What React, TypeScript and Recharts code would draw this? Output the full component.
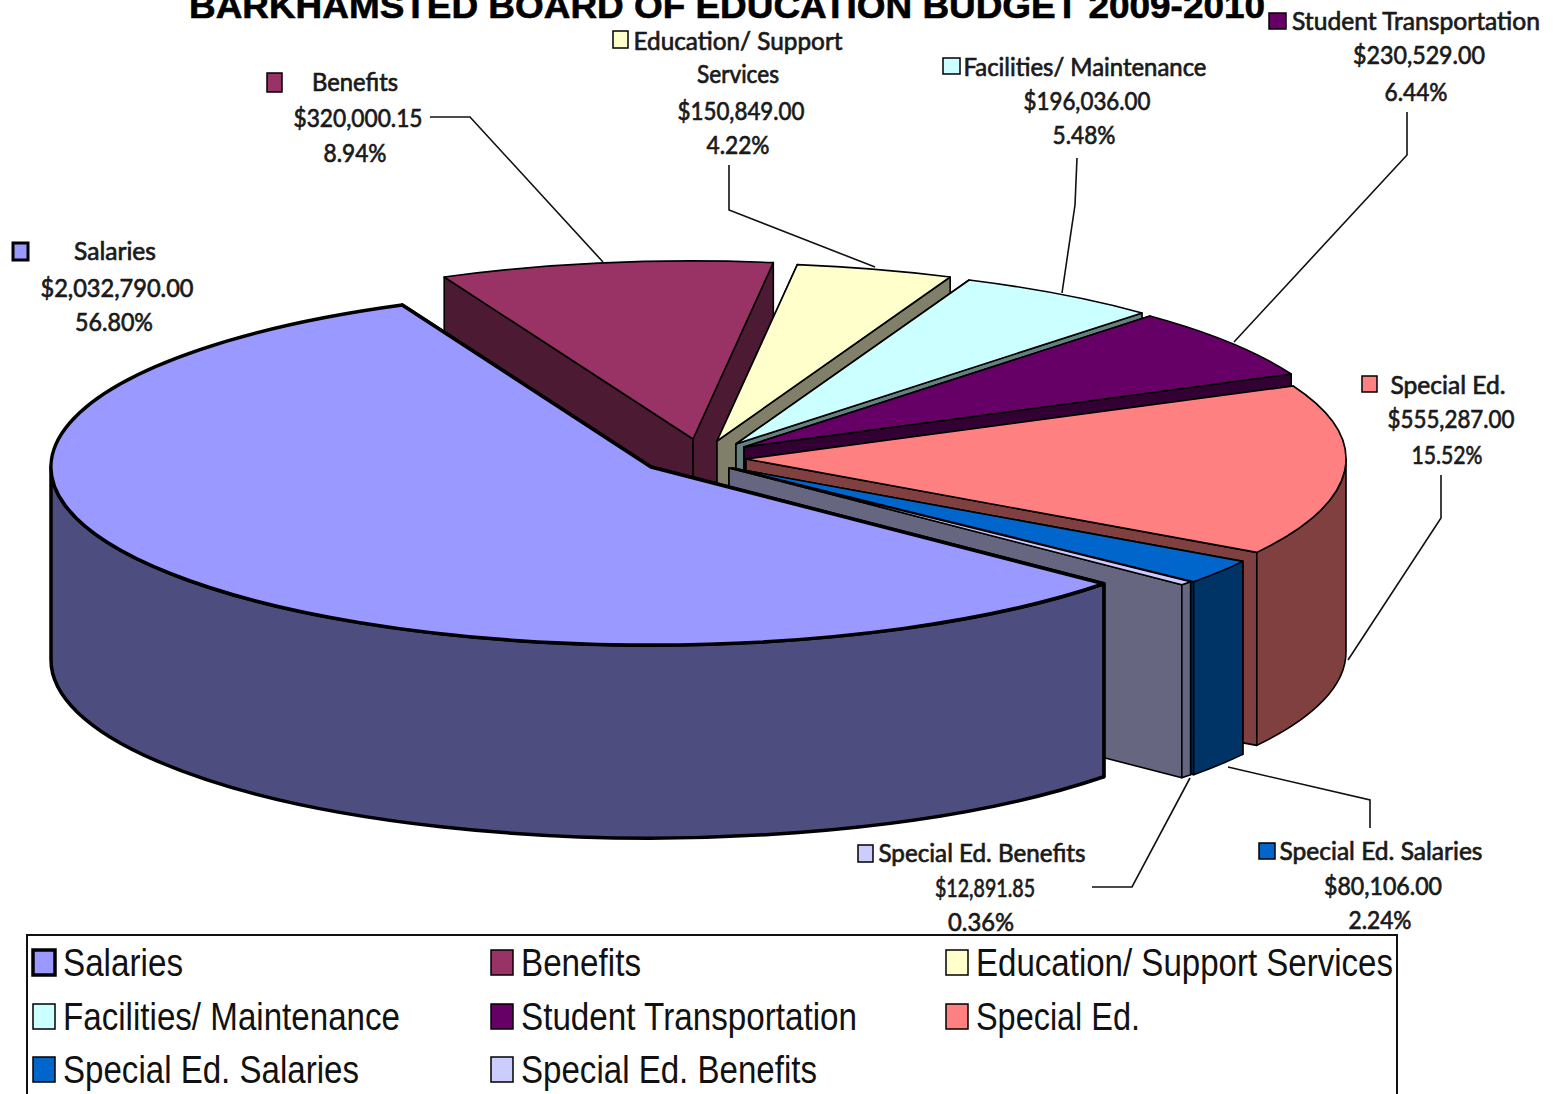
import { Legend, Pie, PieChart } from "recharts";

const CATEGORIES = [
  "Salaries",
  "Benefits",
  "Education/ Support Services",
  "Facilities/ Maintenance",
  "Student Transportation",
  "Special Ed.",
  "Special Ed. Salaries",
  "Special Ed. Benefits",
];
const AMOUNTS = [2032790.0, 320000.15, 150849.0, 196036.0, 230529.0, 555287.0, 80106.0, 12891.85];
const SHARE_LABELS = ["56.80%", "8.94%", "4.22%", "5.48%", "6.44%", "15.52%", "2.24%", "0.36%"];
const TOP_COLORS = ["#9999FF", "#993366", "#FFFFCC", "#CCFFFF", "#660066", "#FF8080", "#0066CC", "#CCCCFF"];
const WALL_COLORS = ["#4D4D80", "#4D1A33", "#80806A", "#668080", "#330033", "#804040", "#003366", "#666680"];

const data = CATEGORIES.map((name, i) => ({ name, value: AMOUNTS[i], fill: TOP_COLORS[i] }));
const money = (v: number) =>
  "$" + v.toLocaleString("en-US", { minimumFractionDigits: 2, maximumFractionDigits: 2 });

// pie geometry: a flat ellipse with a vertical wall below it
const CX = 651;
const CY = 467;
const RX = 600;
const RY = 178;
const DEPTH = 193;

// how far each wedge is pulled out of the pie
const EXPLODE = [
  [0, 0],
  [42, -28],
  [66, -26],
  [85, -23],
  [93, -20],
  [95, -8],
  [81, 1],
  [78, 1],
];
// painted back to front
const DRAW_ORDER = [1, 2, 3, 4, 5, 6, 7, 0];

const FONT = "Lato, sans-serif";

type LabelBox = {
  swatch: [number, number, number, number];
  lines: [string, number, number, number][];
  leader: string;
};

const nameLine = (text: string, x: number, y: number, w: number): [string, number, number, number] => [text, x, y, w];

const LABEL_BOXES: LabelBox[] = [
  {
    swatch: [13, 243, 15, 17],
    lines: [nameLine(CATEGORIES[0], 115, 250, 82), nameLine(money(AMOUNTS[0]), 117, 287, 153), nameLine(SHARE_LABELS[0], 114, 321, 78)],
    leader: "",
  },
  {
    swatch: [267, 73, 15, 19],
    lines: [nameLine(CATEGORIES[1], 355, 81, 86), nameLine(money(AMOUNTS[1]), 358, 117, 129), nameLine(SHARE_LABELS[1], 355, 152, 63)],
    leader: "430,117 470,117 603,262",
  },
  {
    swatch: [613, 31, 15, 17],
    lines: [
      nameLine("Education/ Support", 738, 40, 209),
      nameLine("Services", 738, 73, 82),
      nameLine(money(AMOUNTS[2]), 741, 110, 127),
      nameLine(SHARE_LABELS[2], 738, 144, 63),
    ],
    leader: "729,165 729,210 875,267",
  },
  {
    swatch: [943, 58, 17, 16],
    lines: [nameLine(CATEGORIES[3], 1085, 66, 243), nameLine(money(AMOUNTS[3]), 1087, 100, 127), nameLine(SHARE_LABELS[3], 1084, 134, 63)],
    leader: "1077,158 1075,205 1062,293",
  },
  {
    swatch: [1269, 13, 17, 16],
    lines: [nameLine(CATEGORIES[4], 1416, 20, 248), nameLine(money(AMOUNTS[4]), 1419, 54, 132), nameLine(SHARE_LABELS[4], 1416, 91, 63)],
    leader: "1407,112 1407,155 1234,342",
  },
  {
    swatch: [1362, 376, 15, 16],
    lines: [nameLine(CATEGORIES[5], 1448, 384, 115), nameLine(money(AMOUNTS[5]), 1451, 418, 127), nameLine(SHARE_LABELS[5], 1447, 454, 71)],
    leader: "1441,475 1441,518 1348,660",
  },
  {
    swatch: [1259, 843, 16, 16],
    lines: [nameLine(CATEGORIES[6], 1381, 850, 203), nameLine(money(AMOUNTS[6]), 1383, 885, 118), nameLine(SHARE_LABELS[6], 1380, 919, 63)],
    leader: "1370,828 1370,800 1228,767",
  },
  {
    swatch: [858, 845, 15, 17],
    lines: [nameLine(CATEGORIES[7], 982, 852, 207), nameLine(money(AMOUNTS[7]), 985, 887, 100), nameLine(SHARE_LABELS[7], 981, 921, 66)],
    leader: "1092,887 1132,887 1190,778",
  },
];

const rimPoint = (cx: number, cy: number, deg: number) => {
  const a = (deg * Math.PI) / 180;
  return [cx + RX * Math.cos(a), cy - RY * Math.sin(a)];
};

// parts of a clockwise sweep that lie on the near side of the ellipse
function nearSpans(start: number, end: number) {
  const spans: [number, number][] = [];
  for (const [hi, lo] of [
    [0, -180],
    [-360, -540],
  ]) {
    const a = Math.min(start, hi);
    const b = Math.max(end, lo);
    if (a > b) spans.push([a, b]);
  }
  return spans;
}

function wedgeShape(only: number) {
  return (props: any) => {
    if (props.index !== only) return <g />;
    const { startAngle, endAngle, cx, cy } = props;
    const x0 = cx + EXPLODE[only][0];
    const y0 = cy + EXPLODE[only][1];
    const p1 = rimPoint(x0, y0, startAngle);
    const p2 = rimPoint(x0, y0, endAngle);
    const large = startAngle - endAngle > 180 ? 1 : 0;
    const wall = WALL_COLORS[only];
    const sw = only === 0 ? 3.5 : 1.6;
    const quad = (p: number[]) =>
      `M${x0},${y0} L${p[0]},${p[1]} L${p[0]},${p[1] + DEPTH} L${x0},${y0 + DEPTH} Z`;
    return (
      <g stroke="#000" strokeWidth={sw} strokeLinejoin="round">
        <path d={quad(p1)} fill={wall} />
        <path d={quad(p2)} fill={wall} />
        {nearSpans(startAngle, endAngle).map(([a, b]) => {
          const q1 = rimPoint(x0, y0, a);
          const q2 = rimPoint(x0, y0, b);
          return (
            <path
              key={a}
              fill={wall}
              d={`M${q1[0]},${q1[1]} A${RX},${RY} 0 0 1 ${q2[0]},${q2[1]} L${q2[0]},${q2[1] + DEPTH} A${RX},${RY} 0 0 0 ${q1[0]},${q1[1] + DEPTH} Z`}
            />
          );
        })}
        <path
          fill={TOP_COLORS[only]}
          d={`M${x0},${y0} L${p1[0]},${p1[1]} A${RX},${RY} 0 ${large} 1 ${p2[0]},${p2[1]} Z`}
        />
      </g>
    );
  };
}

function SliceLabel({ index }: { index?: number }) {
  const box = LABEL_BOXES[index ?? 0];
  const [sx, sy, sw, sh] = box.swatch;
  return (
    <g>
      {box.leader && <polyline points={box.leader} fill="none" stroke="#111" strokeWidth={1.6} />}
      <rect
        x={sx}
        y={sy}
        width={sw}
        height={sh}
        fill={TOP_COLORS[index ?? 0]}
        stroke="#000"
        strokeWidth={index === 0 ? 3 : 1.5}
      />
      {box.lines.map(([text, x, y, w]) => (
        <text
          key={text}
          x={x}
          y={y}
          textAnchor="middle"
          dominantBaseline="central"
          textLength={w}
          lengthAdjust="spacingAndGlyphs"
          fontFamily={FONT}
          fontSize={25}
          fill="#1a1a1a"
          stroke="#1a1a1a"
          strokeWidth={0.7}
        >
          {text}
        </text>
      ))}
    </g>
  );
}

const LEGEND_WIDTHS = [120, 120, 417, 337, 336, 164, 296, 296];

function LegendBox() {
  return (
    <svg width={1375} height={165} style={{ display: "block" }}>
      <rect x={1} y={1} width={1370} height={170} fill="#fff" stroke="#111" strokeWidth={2} />
      {CATEGORIES.map((name, i) => {
        const x = [7, 465, 920][i % 3];
        const y = [28, 82, 135][Math.floor(i / 3)];
        return (
          <g key={name}>
            <rect
              x={x}
              y={y - 12}
              width={22}
              height={25}
              fill={TOP_COLORS[i]}
              stroke="#000"
              strokeWidth={i === 0 ? 3.5 : 1.5}
            />
            <text
              x={x + 30}
              y={y + 1}
              dominantBaseline="central"
              textLength={LEGEND_WIDTHS[i]}
              lengthAdjust="spacingAndGlyphs"
              fontFamily="'Liberation Sans', Arial, sans-serif"
              fontSize={38}
              fill="#111"
            >
              {name}
            </text>
          </g>
        );
      })}
    </svg>
  );
}

export default function App() {
  return (
    <div style={{ position: "absolute", left: 0, top: 0, width: 1556, height: 1094, overflow: "hidden", background: "#fff" }}>
      <PieChart width={1556} height={1094} margin={{ top: 0, right: 0, bottom: 0, left: 0 }}>
        <text
          x={727}
          y={18}
          textAnchor="middle"
          textLength={1076}
          lengthAdjust="spacingAndGlyphs"
          fontFamily="'Liberation Sans', Arial, sans-serif"
          fontWeight={700}
          fontSize={35}
          fill="#000"
          stroke="#000"
          strokeWidth={0.6}
        >
          BARKHAMSTED BOARD OF EDUCATION BUDGET 2009-2010
        </text>
        {DRAW_ORDER.map((idx) => (
          <Pie
            key={idx}
            data={data}
            dataKey="value"
            nameKey="name"
            cx={CX}
            cy={CY}
            innerRadius={0}
            outerRadius={RX}
            startAngle={-41}
            endAngle={-401}
            stroke="none"
            isAnimationActive={false}
            legendType={idx === 0 ? "square" : "none"}
            shape={wedgeShape(idx)}
            labelLine={false}
            label={idx === 0 ? (p: any) => <SliceLabel index={p.index} /> : false}
          />
        ))}
        <Legend
          content={() => <LegendBox />}
          wrapperStyle={{ position: "absolute", left: 26, top: 934, width: 1375, height: 165, bottom: "auto" }}
        />
      </PieChart>
    </div>
  );
}
